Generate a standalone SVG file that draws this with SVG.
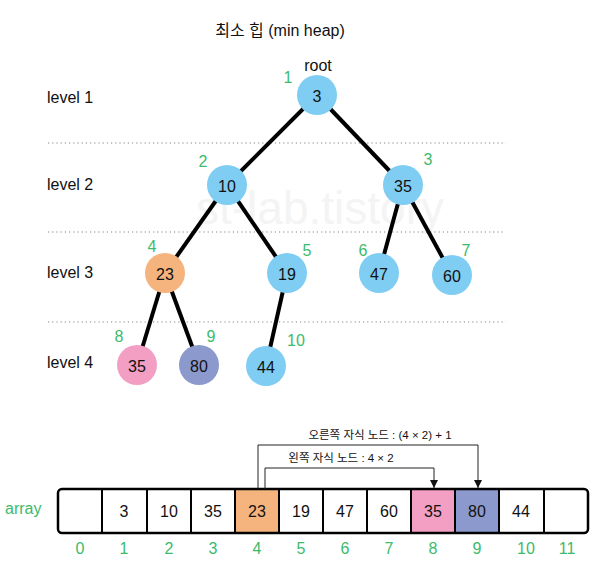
<svg xmlns="http://www.w3.org/2000/svg" width="613" height="571" viewBox="0 0 613 571">
<defs>
<style>
text{font-family:"Liberation Sans","Noto Sans CJK KR",sans-serif;}
.t{font-size:16px;fill:#111;}
.lv{font-size:16px;fill:#111;}
.n{font-size:16px;fill:#111;text-anchor:middle;dominant-baseline:central;}
.g{font-size:16px;fill:#3dba6c;text-anchor:middle;dominant-baseline:central;}
.blue{fill:#7fcdf3;}
.orange{fill:#f5b47e;}
.pink{fill:#f29fc3;}
.purple{fill:#8c99cc;}
.dot{stroke:#888;stroke-width:1.2;stroke-dasharray:1.2 3;fill:none;}
.edge{stroke:#000;stroke-width:4;fill:none;}
.ptr{stroke:#222;stroke-width:1;fill:none;}
.note{font-size:11.5px;fill:#111;text-anchor:middle;}
</style>
<marker id="ah" viewBox="0 0 8 8" refX="8" refY="4" markerWidth="8" markerHeight="8" markerUnits="userSpaceOnUse" orient="auto">
<path d="M0,0 L8,4 L0,8 Z" fill="#111"/>
</marker>
</defs>
<rect width="613" height="571" fill="#fff"/>
<text x="320" y="224" style="font-size:46px;fill:#f4f4f4" text-anchor="middle">st-lab.tistory</text>
<text class="t" x="280" y="36" text-anchor="middle">최소 힙 (min heap)</text>
<text class="t" x="318" y="71" text-anchor="middle">root</text>
<g id="levels">
<text class="lv" x="47" y="103">level 1</text>
<text class="lv" x="47" y="190">level 2</text>
<text class="lv" x="47" y="278">level 3</text>
<text class="lv" x="47" y="368">level 4</text>
<line class="dot" x1="48" y1="143" x2="506" y2="143"/>
<line class="dot" x1="48" y1="232" x2="506" y2="232"/>
<line class="dot" x1="48" y1="322" x2="506" y2="322"/>
</g>
<g id="connectors">
<line class="edge" x1="317" y1="95" x2="227" y2="185"/>
<line class="edge" x1="317" y1="95" x2="403" y2="185"/>
<line class="edge" x1="227" y1="185" x2="165" y2="273"/>
<line class="edge" x1="227" y1="185" x2="287" y2="273"/>
<line class="edge" x1="403" y1="185" x2="379" y2="273"/>
<line class="edge" x1="403" y1="185" x2="452" y2="275"/>
<line class="edge" x1="165" y1="273" x2="137" y2="365"/>
<line class="edge" x1="165" y1="273" x2="199" y2="365"/>
<line class="edge" x1="287" y1="273" x2="266" y2="366"/>
</g>
<g id="n1"><circle class="blue" cx="317" cy="95" r="20"/><text class="n" x="317" y="96">3</text><text class="g" x="288" y="77">1</text></g>
<g id="n2"><circle class="blue" cx="227" cy="185" r="20"/><text class="n" x="227" y="186">10</text><text class="g" x="203" y="161">2</text></g>
<g id="n3"><circle class="blue" cx="403" cy="185" r="20"/><text class="n" x="403" y="186">35</text><text class="g" x="428" y="159">3</text></g>
<g id="n4"><circle class="orange" cx="165" cy="273" r="20"/><text class="n" x="165" y="274">23</text><text class="g" x="152" y="246">4</text></g>
<g id="n5"><circle class="blue" cx="287" cy="273" r="20"/><text class="n" x="287" y="274">19</text><text class="g" x="307" y="250">5</text></g>
<g id="n6"><circle class="blue" cx="379" cy="273" r="20"/><text class="n" x="379" y="274">47</text><text class="g" x="363" y="250">6</text></g>
<g id="n7"><circle class="blue" cx="452" cy="275" r="20"/><text class="n" x="452" y="276">60</text><text class="g" x="466" y="250">7</text></g>
<g id="n8"><circle class="pink" cx="137" cy="365" r="20"/><text class="n" x="137" y="366">35</text><text class="g" x="119" y="336">8</text></g>
<g id="n9"><circle class="purple" cx="199" cy="365" r="20"/><text class="n" x="199" y="366">80</text><text class="g" x="211" y="336">9</text></g>
<g id="n10"><circle class="blue" cx="266" cy="366" r="20"/><text class="n" x="266" y="367">44</text><text class="g" x="296" y="340">10</text></g>
<g id="array">
<text x="5" y="514" style="font-size:16px;fill:#3dba6c">array</text>
<rect x="235" y="489" width="44" height="44" class="orange"/>
<rect x="411" y="489" width="44" height="44" class="pink"/>
<rect x="455" y="489" width="44" height="44" class="purple"/>
<rect x="58" y="489" width="530" height="44" rx="4" fill="none" stroke="#000" stroke-width="2.5"/>
<g stroke="#000" stroke-width="2">
<line x1="102" y1="489" x2="102" y2="533"/>
<line x1="147" y1="489" x2="147" y2="533"/>
<line x1="191" y1="489" x2="191" y2="533"/>
<line x1="235" y1="489" x2="235" y2="533"/>
<line x1="279" y1="489" x2="279" y2="533"/>
<line x1="323" y1="489" x2="323" y2="533"/>
<line x1="367" y1="489" x2="367" y2="533"/>
<line x1="411" y1="489" x2="411" y2="533"/>
<line x1="455" y1="489" x2="455" y2="533"/>
<line x1="499" y1="489" x2="499" y2="533"/>
<line x1="544" y1="489" x2="544" y2="533"/>
</g>
<text class="n" x="124" y="511">3</text>
<text class="n" x="169" y="511">10</text>
<text class="n" x="213" y="511">35</text>
<text class="n" x="257" y="511">23</text>
<text class="n" x="301" y="511">19</text>
<text class="n" x="345" y="511">47</text>
<text class="n" x="389" y="511">60</text>
<text class="n" x="433" y="511">35</text>
<text class="n" x="477" y="511">80</text>
<text class="n" x="521" y="511">44</text>
<text class="g" x="80" y="548">0</text>
<text class="g" x="124" y="548">1</text>
<text class="g" x="169" y="548">2</text>
<text class="g" x="213" y="548">3</text>
<text class="g" x="257" y="548">4</text>
<text class="g" x="301" y="548">5</text>
<text class="g" x="345" y="548">6</text>
<text class="g" x="389" y="548">7</text>
<text class="g" x="433" y="548">8</text>
<text class="g" x="477" y="548">9</text>
<text class="g" x="526" y="548">10</text>
<text class="g" x="567" y="548">11</text>
</g>
<g id="pointers">
<path class="ptr" d="M258,489 V445 H478 V488" marker-end="url(#ah)"/>
<path class="ptr" d="M265,489 V468 H434 V488" marker-end="url(#ah)"/>
<text class="note" x="380" y="439">오른쪽 자식 노드 : (4 × 2) + 1</text>
<text class="note" x="341" y="462">왼쪽 자식 노드 : 4 × 2</text>
</g>
</svg>
